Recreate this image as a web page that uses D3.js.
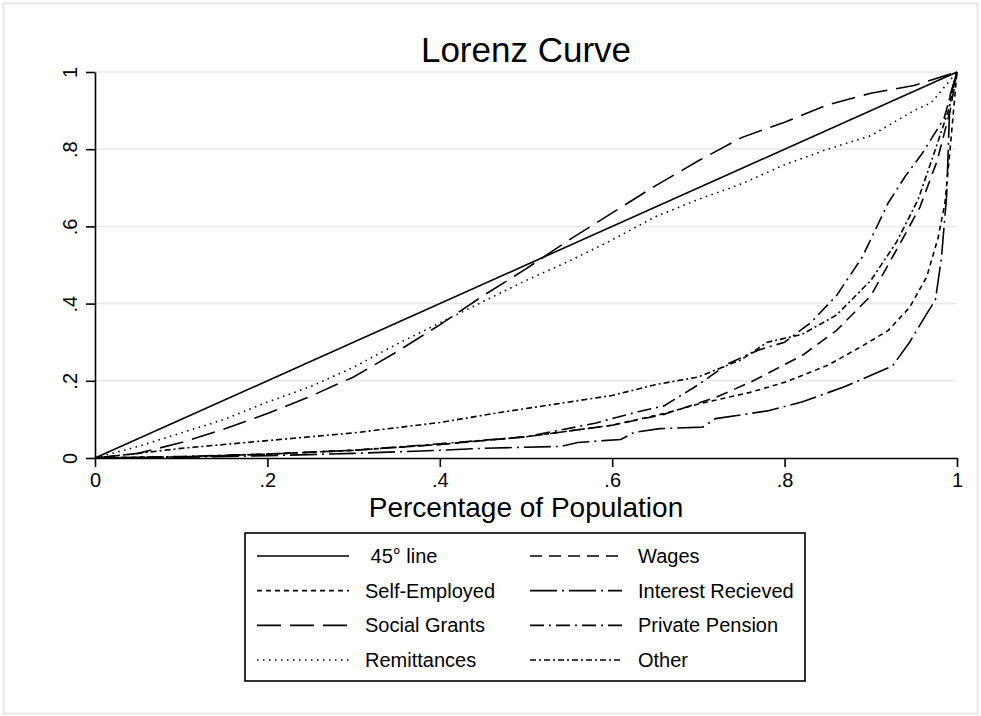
<!DOCTYPE html>
<html>
<head>
<meta charset="utf-8">
<script src="https://d3js.org/d3.v7.min.js"></script>
<style>
  body { margin: 0; background: #fff; }
  text { font-family: "Liberation Sans", Arial, sans-serif; fill: #000; }
</style>
</head>
<body>
<div id="chart"></div>
<script>

// ---- data: cumulative share of population vs cumulative share of income ----
var line45 = [[0,0],[0.25,0.25],[0.5,0.5],[0.75,0.75],[1,1]];

var wages = [[0,0],[0.1,0.003],[0.2,0.01],[0.3,0.02],[0.4,0.035],[0.5,0.055],[0.6,0.085],
  [0.66,0.113],[0.72,0.157],[0.76,0.196],[0.82,0.265],[0.86,0.33],[0.9,0.42],[0.92,0.5],
  [0.94,0.58],[0.957,0.65],[0.977,0.77],[0.992,0.9],[1,1]];

var selfEmployed = [[0,0],[0.1,0.003],[0.2,0.01],[0.3,0.02],[0.4,0.035],[0.5,0.055],[0.6,0.085],
  [0.66,0.115],[0.7,0.14],[0.76,0.17],[0.8,0.196],[0.85,0.24],[0.89,0.29],[0.92,0.33],
  [0.945,0.39],[0.965,0.47],[0.978,0.57],[0.986,0.66],[0.992,0.8],[1,1]];

var interest = [[0,0],[0.1,0.002],[0.2,0.006],[0.3,0.012],[0.4,0.02],[0.45,0.025],[0.5,0.028],
  [0.54,0.03],[0.56,0.04],[0.59,0.045],[0.61,0.048],[0.625,0.066],[0.655,0.076],[0.705,0.08],
  [0.72,0.102],[0.78,0.122],[0.82,0.145],[0.87,0.185],[0.925,0.238],[0.945,0.3],[0.965,0.374],
  [0.975,0.41],[0.982,0.52],[0.988,0.68],[0.992,0.94],[1,1]];

var socialGrants = [[0,0],[0.05,0.012],[0.1,0.04],[0.15,0.075],[0.2,0.115],[0.25,0.16],[0.3,0.21],
  [0.35,0.275],[0.4,0.345],[0.45,0.42],[0.5,0.49],[0.55,0.565],[0.6,0.635],[0.65,0.705],
  [0.7,0.77],[0.75,0.83],[0.8,0.87],[0.85,0.915],[0.9,0.945],[0.95,0.965],[1,1]];

var privatePension = [[0,0],[0.1,0.004],[0.2,0.01],[0.3,0.02],[0.4,0.037],[0.5,0.055],[0.58,0.09],
  [0.63,0.12],[0.66,0.135],[0.7,0.19],[0.735,0.245],[0.77,0.28],[0.8,0.3],[0.83,0.35],
  [0.86,0.42],[0.89,0.52],[0.92,0.66],[0.94,0.73],[0.96,0.79],[0.985,0.88],[1,1]];

var remittances = [[0,0],[0.05,0.03],[0.1,0.065],[0.15,0.1],[0.2,0.145],[0.25,0.185],[0.3,0.235],
  [0.35,0.295],[0.4,0.35],[0.45,0.405],[0.5,0.46],[0.55,0.51],[0.6,0.565],[0.65,0.625],
  [0.7,0.67],[0.75,0.71],[0.8,0.76],[0.85,0.8],[0.9,0.835],[0.95,0.9],[0.97,0.92],[1,1]];

var other = [[0,0],[0.05,0.012],[0.1,0.025],[0.2,0.045],[0.3,0.065],[0.4,0.092],[0.47,0.118],
  [0.55,0.145],[0.6,0.162],[0.65,0.19],[0.7,0.21],[0.75,0.255],[0.78,0.3],[0.82,0.32],
  [0.86,0.37],[0.9,0.46],[0.93,0.56],[0.955,0.67],[0.975,0.8],[0.99,0.9],[1,1]];

var tickValues = [0, 0.2, 0.4, 0.6, 0.8, 1];
var tickLabels = ["0", ".2", ".4", ".6", ".8", "1"];

// legend order (two columns, row by row) and Stata-like line patterns
var series = [
  {name: " 45° line",         data: line45,         dash: null},
  {name: "Wages",             data: wages,          dash: "12,7"},
  {name: "Self-Employed",     data: selfEmployed,   dash: "5,4"},
  {name: "Interest Recieved", data: interest,       dash: "27,5,2,5"},
  {name: "Social Grants",     data: socialGrants,   dash: "24,9"},
  {name: "Private Pension",   data: privatePension, dash: "14,5,2,5"},
  {name: "Remittances",       data: remittances,    dash: "1.5,4.5"},
  {name: "Other",             data: other,          dash: "6,3,2,3"}
];

var W = 981, H = 716;
var margin = {left: 95, right: 24, top: 72, bottom: 258};

var svg = d3.select("#chart").append("svg")
  .attr("width", W).attr("height", H);

// outer frame
svg.append("rect")
  .attr("x", 3.5).attr("y", 3.5).attr("width", W - 7).attr("height", H - 6)
  .attr("fill", "#fff").attr("stroke", "#e6e6e6").attr("stroke-width", 2);

var x = d3.scaleLinear().domain([0, 1]).range([margin.left, W - margin.right]);
var y = d3.scaleLinear().domain([0, 1]).range([H - margin.bottom, margin.top]);

// gridlines
svg.append("g").selectAll("line")
  .data(tickValues.slice(1))
  .enter().append("line")
    .attr("x1", x(0)).attr("x2", x(1))
    .attr("y1", function(d) { return y(d); })
    .attr("y2", function(d) { return y(d); })
    .attr("stroke", "#e8e8e8").attr("stroke-width", 1.5);

// axes
var xAxis = svg.append("g")
  .attr("transform", "translate(0," + y(0) + ")")
  .call(d3.axisBottom(x).tickValues(tickValues)
    .tickFormat(function(d, i) { return tickLabels[i]; })
    .tickSize(9).tickSizeOuter(0).tickPadding(6));

var yAxis = svg.append("g")
  .attr("transform", "translate(" + x(0) + ",0)")
  .call(d3.axisLeft(y).tickValues(tickValues)
    .tickFormat(function(d, i) { return tickLabels[i]; })
    .tickSize(9).tickSizeOuter(0).tickPadding(6));

[xAxis, yAxis].forEach(function(a) {
  a.select(".domain").attr("stroke", "#000").attr("stroke-width", 1.6);
  a.selectAll(".tick line").attr("stroke", "#000").attr("stroke-width", 1.6);
  a.selectAll("text").style("font-size", "20px")
    .style("font-family", '"Liberation Sans", Arial, sans-serif');
});

// rotate y tick labels like Stata
yAxis.selectAll(".tick text")
  .attr("x", null).attr("dy", null)
  .attr("text-anchor", "middle")
  .attr("transform", "translate(-18,0) rotate(-90)");

// curves
var line = d3.line()
  .x(function(d) { return x(d[0]); })
  .y(function(d) { return y(d[1]); });

svg.append("g").selectAll("path")
  .data(series)
  .enter().append("path")
    .attr("d", function(d) { return line(d.data); })
    .attr("fill", "none")
    .attr("stroke", "#000")
    .attr("stroke-width", 1.6)
    .attr("stroke-dasharray", function(d) { return d.dash; });

// titles
svg.append("text")
  .attr("x", (x(0) + x(1)) / 2).attr("y", 62)
  .attr("text-anchor", "middle")
  .style("font-size", "35px")
  .text("Lorenz Curve");

svg.append("text")
  .attr("x", (x(0) + x(1)) / 2).attr("y", 517)
  .attr("text-anchor", "middle")
  .style("font-size", "28px")
  .text("Percentage of Population");

// legend
var legend = svg.append("g");
legend.append("rect")
  .attr("x", 245).attr("y", 533).attr("width", 560).attr("height", 148)
  .attr("fill", "#fff").attr("stroke", "#000").attr("stroke-width", 1.6);

var rowY = d3.scalePoint().domain([0, 1, 2, 3]).range([556, 660]);
var colX = [257, 530];
var lineLen = 92;
var labelGap = 16;

var items = legend.selectAll("g.item")
  .data(series)
  .enter().append("g")
    .attr("transform", function(d, i) {
      return "translate(" + colX[i % 2] + "," + rowY(Math.floor(i / 2)) + ")";
    });

items.append("line")
  .attr("x1", 0).attr("x2", lineLen)
  .attr("stroke", "#000").attr("stroke-width", 1.6)
  .attr("stroke-dasharray", function(d) { return d.dash; });

items.append("text")
  .attr("x", lineLen + labelGap).attr("dy", "0.35em")
  .style("font-size", "20px")
  .style("white-space", "pre")
  .text(function(d) { return d.name; });

</script>
</body>
</html>
